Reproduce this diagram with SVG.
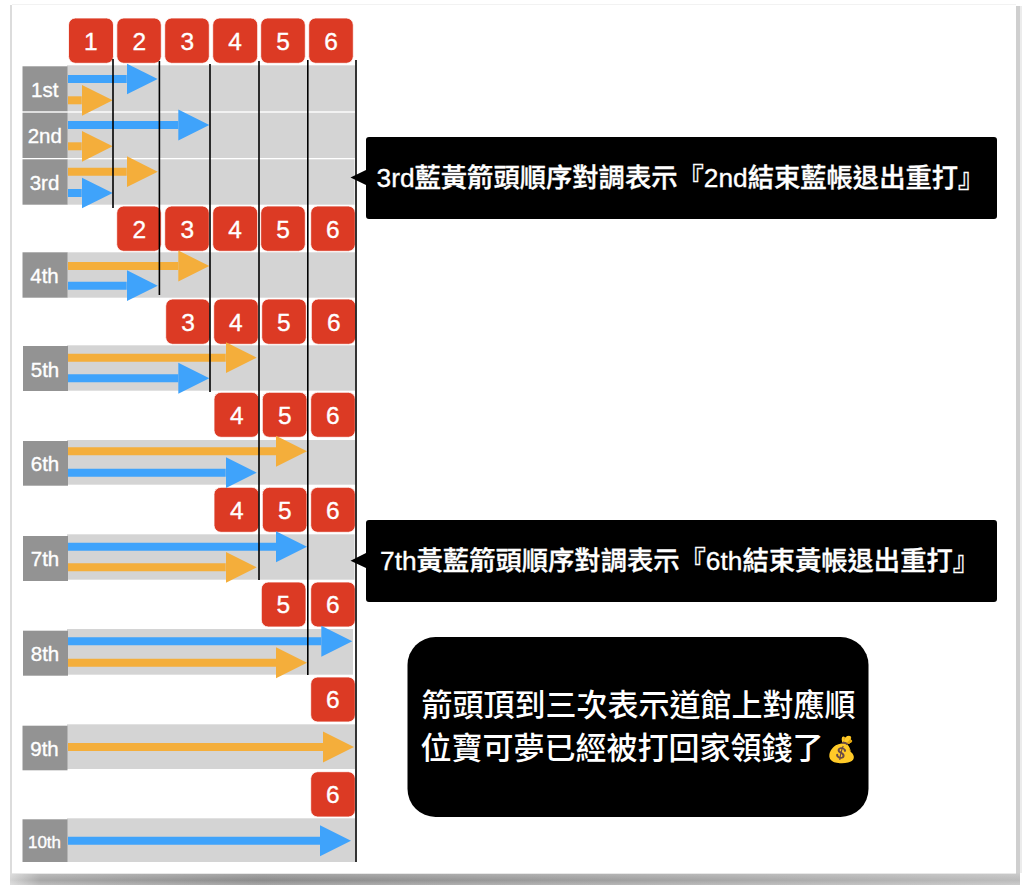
<svg xmlns="http://www.w3.org/2000/svg" width="1024" height="885" viewBox="0 0 1024 885">
<defs>
<linearGradient id="sh" x1="0" x2="1" y1="0" y2="0"><stop offset="0" stop-color="#d4d4d4"/><stop offset="0.03" stop-color="#a8a8a8"/><stop offset="0.25" stop-color="#8c8c8c"/><stop offset="0.6" stop-color="#a0a0a0"/><stop offset="1" stop-color="#bcbcbc"/></linearGradient>
<linearGradient id="fade" x1="0" x2="0" y1="0" y2="1"><stop offset="0" stop-color="#fff" stop-opacity="0.25"/><stop offset="0.6" stop-color="#fff" stop-opacity="0"/><stop offset="1" stop-color="#fff" stop-opacity="0.25"/></linearGradient>
<marker id="blue" markerUnits="userSpaceOnUse" markerWidth="32" markerHeight="32" refX="0" refY="16" orient="auto"><path d="M0,0.5L31,16L0,31.500Z" fill="#3fa3fb"/></marker>
<marker id="orange" markerUnits="userSpaceOnUse" markerWidth="32" markerHeight="32" refX="0" refY="16" orient="auto"><path d="M0,0.5L31,16L0,31.500Z" fill="#f4ae3b"/></marker>
</defs>
<style>
text{font-family:"Liberation Sans","Noto Sans CJK TC",sans-serif;fill:#fff;text-anchor:middle;stroke:#fff;stroke-width:.35}
.r rect{fill:#dc3a24;stroke:#fff;stroke-width:.8}
.r text{font-size:24.500px}
.l rect{fill:#939393}
.l text{font-size:20.500px}
.b{fill:#d4d4d4}
.vl{stroke:#000;stroke-width:1.6;fill:none}
.ab,.ao{stroke-width:8;fill:none}
.ab{stroke:#3fa3fb;marker-end:url(#blue)}
.ao{stroke:#f4ae3b;marker-end:url(#orange)}
.call{font-size:26.300px;font-weight:500;text-anchor:start}
.big{font-size:31px;font-weight:500;stroke:none}
</style>
<rect x="0" y="0" width="1024" height="885" fill="#fff"/>
<rect x="10" y="873" width="1010" height="12" fill="url(#sh)"/>
<rect x="10" y="873" width="1010" height="12" fill="url(#fade)"/>
<rect x="10" y="5" width="2" height="868" fill="#dcdcdc"/>
<rect x="1016" y="6" width="4" height="867" fill="#cfcfcf"/>
<rect x="1020" y="6" width="2" height="867" fill="#ececec"/>
<rect x="12" y="4" width="1004" height="1" fill="#f2f2f2"/>
<rect x="12" y="873" width="1004" height="1" fill="#e8e8e8"/>
<g id="bands">
<rect class="b" x="67" y="65.300" width="288" height="46"/><rect class="b" x="67" y="112.700" width="288" height="45.300"/><rect class="b" x="67" y="159.300" width="287.500" height="45.400"/><rect class="b" x="67" y="252.300" width="288" height="45.400"/><rect class="b" x="67" y="345.300" width="288" height="45.400"/><rect class="b" x="67" y="440" width="288" height="44.700"/><rect class="b" x="67" y="534.300" width="287.500" height="45.400"/><rect class="b" x="67" y="629" width="286" height="45.700"/><rect class="b" x="67" y="724.300" width="288" height="44.700"/><rect class="b" x="67" y="818.300" width="288" height="43.700"/>
</g>
<g id="row-labels" class="l">
<g id="l1"><rect x="22.500" y="66.300" width="45" height="45"/><text x="44.800" y="97">1st</text></g>
<g id="l2"><rect x="22.500" y="112.700" width="45" height="45.300"/><text x="44.800" y="143">2nd</text></g>
<g id="l3"><rect x="22.500" y="159.300" width="45" height="45.400"/><text x="44.500" y="190">3rd</text></g>
<g id="l4"><rect x="22.500" y="252.300" width="45" height="45.400"/><text x="44.500" y="283">4th</text></g>
<g id="l5"><rect x="23" y="346" width="45" height="45"/><text x="45" y="376.700">5th</text></g>
<g id="l6"><rect x="23" y="441" width="45" height="44.700"/><text x="45" y="471">6th</text></g>
<g id="l7"><rect x="23" y="536" width="45" height="45"/><text x="45" y="566">7th</text></g>
<g id="l8"><rect x="23" y="630.700" width="45" height="45"/><text x="45" y="661">8th</text></g>
<g id="l9"><rect x="22.500" y="725.700" width="45" height="44.600"/><text x="44.500" y="755.700">9th</text></g>
<g id="l10"><rect x="22.500" y="819.300" width="45" height="42.700"/><text x="44.500" y="848" style="font-size:17px">10th</text></g>
</g>
<g id="badges" class="r">
<g id="a1"><rect x="68.500" y="18" width="45" height="45.300" rx="7"/><text x="90.700" y="50">1</text></g>
<g id="a2"><rect x="116.800" y="18" width="44.500" height="45.300" rx="7"/><text x="139.300" y="50">2</text></g>
<g id="a3"><rect x="164.700" y="18" width="44.600" height="45.300" rx="7"/><text x="187.300" y="50">3</text></g>
<g id="a4"><rect x="212.700" y="18" width="45" height="45.300" rx="7"/><text x="235" y="50">4</text></g>
<g id="a5"><rect x="260.700" y="18" width="44.600" height="45.300" rx="7"/><text x="283" y="50">5</text></g>
<g id="a6"><rect x="308.700" y="18" width="44.600" height="45.300" rx="7"/><text x="331" y="50">6</text></g>
<g id="b2"><rect x="116.700" y="206" width="44.600" height="45.300" rx="7"/><text x="139.300" y="238">2</text></g>
<g id="b3"><rect x="164.700" y="206" width="44.600" height="45.300" rx="7"/><text x="187.300" y="238">3</text></g>
<g id="b4"><rect x="212.700" y="206" width="45" height="45.300" rx="7"/><text x="235" y="238">4</text></g>
<g id="b5"><rect x="260.700" y="206" width="44.600" height="45.300" rx="7"/><text x="283" y="238">5</text></g>
<g id="b6"><rect x="310.700" y="206" width="44.600" height="45.300" rx="7"/><text x="332.700" y="238">6</text></g>
<g id="c3"><rect x="165.700" y="299" width="44.300" height="45.300" rx="7"/><text x="188" y="330.500">3</text></g>
<g id="c4"><rect x="213.700" y="299" width="44.600" height="45.300" rx="7"/><text x="235.700" y="330.500">4</text></g>
<g id="c5"><rect x="261.700" y="299" width="44.600" height="45.300" rx="7"/><text x="283.700" y="330.500">5</text></g>
<g id="c6"><rect x="311.300" y="299" width="44.400" height="45.300" rx="7"/><text x="333.700" y="330.500">6</text></g>
<g id="d4"><rect x="214" y="392.300" width="45" height="45" rx="7"/><text x="236.700" y="423.500">4</text></g>
<g id="d5"><rect x="262.300" y="392.300" width="44.700" height="45" rx="7"/><text x="284.700" y="423.500">5</text></g>
<g id="d6"><rect x="310.700" y="392.300" width="44.600" height="45" rx="7"/><text x="332.700" y="423.500">6</text></g>
<g id="e4"><rect x="214" y="487.300" width="45" height="45" rx="7"/><text x="236.700" y="518.500">4</text></g>
<g id="e5"><rect x="262.300" y="487.300" width="44.700" height="45" rx="7"/><text x="284.700" y="518.500">5</text></g>
<g id="e6"><rect x="310.700" y="487.300" width="44.600" height="45" rx="7"/><text x="332.700" y="518.500">6</text></g>
<g id="f5"><rect x="261.300" y="582" width="44.700" height="45" rx="7"/><text x="283.300" y="613.300">5</text></g>
<g id="f6"><rect x="310.700" y="582" width="44.600" height="45" rx="7"/><text x="332.700" y="613.300">6</text></g>
<g id="g6"><rect x="310.700" y="677" width="44.600" height="45" rx="7"/><text x="332.700" y="708.300">6</text></g>
<g id="h6"><rect x="310.700" y="771.700" width="44.600" height="45.300" rx="7"/><text x="332.700" y="803">6</text></g>
</g>
<g id="connectors">
<path class="ab" d="M68,79H126.700"/><path class="ao" d="M68,100.300H81.700"/><path class="ab" d="M68,125H178.300"/><path class="ao" d="M68,146.300H81.700"/><path class="ao" d="M68,171.700H126.700"/><path class="ab" d="M68,193H81.700"/><path class="ao" d="M68,266H178.300"/><path class="ab" d="M68,285.700H126.700"/><path class="ao" d="M68,357.700H225.700"/><path class="ab" d="M68,378.300H178.300"/><path class="ao" d="M68,451.300H276"/><path class="ab" d="M68,472.700H225.700"/><path class="ab" d="M68,546.700H276"/><path class="ao" d="M68,567.300H225.700"/><path class="ab" d="M68,641.300H321.300"/><path class="ao" d="M68,662.700H276"/><path class="ao" d="M68,747H323"/><path class="ab" d="M68,840.700H320"/>
<path class="vl" d="M113,59V208"/><path class="vl" d="M159.400,61V295"/><path class="vl" d="M210,64V392"/><path class="vl" d="M259,61V580"/><path class="vl" d="M307.800,60V675"/><path class="vl" d="M356,60V862"/>
</g>
<g id="callout-1"><path d="M369,137H994a3,3 0 0 1 3,3V216a3,3 0 0 1 -3,3H369a3,3 0 0 1 -3,-3V185L350.500,177.600L366,170V140a3,3 0 0 1 3,-3Z" fill="#000"/><text class="call" x="376.500" y="187">3rd藍黃箭頭順序對調表示『2nd結束藍帳退出重打』</text></g>
<g id="callout-2"><path d="M369,520H994a3,3 0 0 1 3,3V599a3,3 0 0 1 -3,3H369a3,3 0 0 1 -3,-3V568L350.500,560.700L366,553V523a3,3 0 0 1 3,-3Z" fill="#000"/><text class="call" x="380" y="570">7th黃藍箭頭順序對調表示『6th結束黃帳退出重打』</text></g>
<g id="note"><rect x="407.500" y="637" width="461" height="180" rx="28" fill="#000"/><text class="big" x="638.500" y="716">箭頭頂到三次表示道館上對應順</text><text class="big" x="622" y="759">位寶可夢已經被打回家領錢了</text><text x="842" y="758" style="font-size:25px;stroke:none;font-family:'Noto Color Emoji','Liberation Sans',sans-serif">💰</text></g>
</svg>
